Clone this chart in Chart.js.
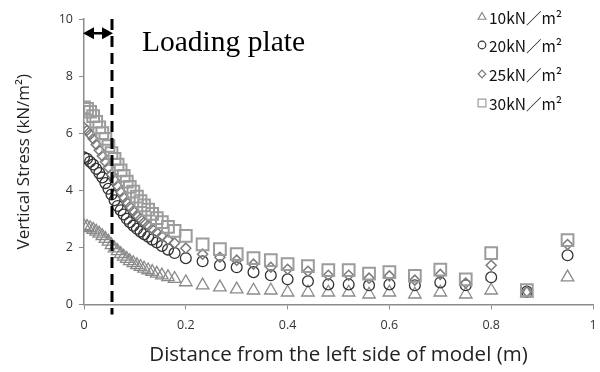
<!DOCTYPE html>
<html>
<head>
<meta charset="utf-8">
<script src="https://cdn.jsdelivr.net/npm/chart.js@4"></script>
<style>
  body { margin: 0; background: #fff; }
  #wrap { width: 600px; height: 372px; }
</style>
</head>
<body>
<div id="wrap"><canvas id="stressChart" width="600" height="372"></canvas></div>
<script>
// measured points (m from left side) and vertical stress per load
const distance = [0, 0.006, 0.012, 0.018, 0.024, 0.03, 0.036, 0.042, 0.048, 0.054,
  0.06, 0.066, 0.072, 0.078, 0.084, 0.09, 0.097, 0.104, 0.111, 0.118,
  0.126, 0.134, 0.143, 0.153, 0.165, 0.178, 0.2, 0.233, 0.267, 0.3,
  0.333, 0.367, 0.4, 0.44, 0.48, 0.52, 0.56, 0.6, 0.65, 0.7,
  0.75, 0.8, 0.87, 0.95];

const stress10 = [2.75, 2.72, 2.68, 2.62, 2.55, 2.48, 2.4, 2.3, 2.2, 2.08,
  1.97, 1.87, 1.77, 1.68, 1.6, 1.52, 1.45, 1.38, 1.32, 1.26,
  1.2, 1.14, 1.08, 1.02, 0.96, 0.9, 0.78, 0.67, 0.6, 0.53,
  0.49, 0.49, 0.42, 0.42, 0.42, 0.42, 0.35, 0.42, 0.35, 0.42,
  0.35, 0.49, 0.38, 0.95];
const stress20 = [5.15, 5.1, 5.0, 4.9, 4.75, 4.6, 4.45, 4.25, 4.05, 3.85,
  3.65, 3.45, 3.3, 3.15, 3.0, 2.88, 2.76, 2.65, 2.55, 2.46,
  2.37, 2.27, 2.17, 2.05, 1.92, 1.8, 1.62, 1.51, 1.37, 1.3,
  1.13, 1.02, 0.88, 0.81, 0.7, 0.7, 0.67, 0.7, 0.67, 0.77,
  0.67, 0.95, 0.45, 1.72];
const stress25 = [6.2, 6.1, 5.95, 5.8, 5.6, 5.4, 5.2, 5.0, 4.8, 4.55,
  4.35, 4.15, 3.95, 3.75, 3.58, 3.42, 3.27, 3.12, 3.0, 2.88,
  2.76, 2.64, 2.52, 2.4, 2.27, 2.15, 1.97, 1.76, 1.65, 1.55,
  1.41, 1.3, 1.23, 1.16, 1.02, 1.02, 0.92, 1.0, 0.85, 1.05,
  0.75, 1.37, 0.45, 2.1];
const stress30 = [6.9, 6.85, 6.75, 6.6, 6.4, 6.2, 6.0, 5.8, 5.55, 5.3,
  5.1, 4.9, 4.7, 4.5, 4.3, 4.12, 3.95, 3.78, 3.62, 3.47,
  3.32, 3.17, 3.02, 2.88, 2.72, 2.58, 2.4, 2.1, 1.94, 1.76,
  1.62, 1.55, 1.41, 1.34, 1.2, 1.2, 1.08, 1.13, 1.0, 1.22,
  0.88, 1.8, 0.5, 2.25];

const seriesLabels = ['10kN／m²', '20kN／m²', '25kN／m²', '30kN／m²'];
const plateEdge = 0.055;   // end of loading plate (m)
const arrowLevel = 9.5;

function pts(ys) {
  return distance.map((x, i) => ({ x: x, y: ys[i] }));
}

const datasets = [
  { label: seriesLabels[3], data: pts(stress30), pointStyle: 'rect', pointRadius: 8.3, borderColor: '#9c9c9c', pointBorderWidth: 2 },
  { label: seriesLabels[2], data: pts(stress25), pointStyle: 'rectRot', pointRadius: 5, borderColor: '#7a7a7a', pointBorderWidth: 1.5 },
  { label: seriesLabels[1], data: pts(stress20), pointStyle: 'circle', pointRadius: 5.4, borderColor: '#333333', pointBorderWidth: 1.3 },
  { label: seriesLabels[0], data: pts(stress10), pointStyle: 'triangle', pointRadius: 7.2, borderColor: '#8a8a8a', pointBorderWidth: 1.3 }
];
datasets.forEach(d => {
  d.showLine = false;
  d.backgroundColor = 'rgba(0,0,0,0)';
  d.pointBackgroundColor = 'rgba(0,0,0,0)';
  d.pointBorderColor = d.borderColor;
});

// dashed plate line, arrow, text and legend inside the plot
const extras = {
  id: 'extras',
  afterDatasetsDraw(chart) {
    const ctx = chart.ctx;
    const xs = chart.scales.x, ys = chart.scales.y;
    const px = xs.getPixelForValue(plateEdge);
    const x0 = xs.getPixelForValue(0);
    const ay = ys.getPixelForValue(arrowLevel);
    ctx.save();
    ctx.strokeStyle = '#000';
    ctx.lineWidth = 3;
    ctx.setLineDash([11, 6]);
    ctx.beginPath();
    ctx.moveTo(px, ys.getPixelForValue(10));
    ctx.lineTo(px, ys.bottom + 10);
    ctx.stroke();
    ctx.setLineDash([]);
    // double arrow
    ctx.lineWidth = 2.5;
    ctx.beginPath();
    ctx.moveTo(x0 + 6, ay);
    ctx.lineTo(px - 6, ay);
    ctx.stroke();
    ctx.fillStyle = '#000';
    ctx.beginPath();
    ctx.moveTo(x0 - 1, ay); ctx.lineTo(x0 + 10, ay - 6); ctx.lineTo(x0 + 10, ay + 6); ctx.closePath();
    ctx.fill();
    ctx.beginPath();
    ctx.moveTo(px + 1, ay); ctx.lineTo(px - 10, ay - 6); ctx.lineTo(px - 10, ay + 6); ctx.closePath();
    ctx.fill();
    ctx.font = '29.5px "Liberation Serif", serif';
    ctx.textBaseline = 'middle';
    ctx.fillText('Loading plate', 142, 43);

    // legend
    const order = [3, 2, 1, 0];
    const rowY = [17, 45, 74, 103];
    order.forEach((di, k) => {
      const ds = chart.data.datasets[di];
      const r = ds.pointStyle === 'rect' ? 5.5 : (ds.pointStyle === 'triangle' ? 4.5 : 3.8);
      ctx.lineWidth = 1.2;
      ctx.strokeStyle = ds.borderColor;
      ctx.fillStyle = 'rgba(0,0,0,0)';
      Chart.helpers.drawPoint(ctx, { pointStyle: ds.pointStyle, radius: r, borderWidth: 1.2 }, 482, rowY[k]);
      ctx.fillStyle = '#111';
      ctx.textAlign = 'left';
      ctx.font = '15.5px "Noto Sans CJK JP", sans-serif';
      ctx.fillText(ds.label, 489, rowY[k] + 1);
    });
    ctx.restore();
  }
};

const axisFont = 'Open Sans';

new Chart(document.getElementById('stressChart'), {
  type: 'scatter',
  data: { datasets: datasets },
  options: {
    responsive: false,
    animation: false,
    layout: { autoPadding: false, padding: { top: 19, right: 0, left: 14, bottom: 5 } },
    plugins: { legend: { display: false }, tooltip: { enabled: false } },
    scales: {
      x: {
        min: 0, max: 1,
        border: { color: '#8c8c8c', width: 1.5 },
        grid: { drawOnChartArea: false, color: '#8c8c8c', tickLength: 5 },
        ticks: { stepSize: 0.2, color: '#333', font: { family: axisFont, size: 12.5 }, padding: 9,
          callback: v => String(Math.round(v * 10) / 10) },
        title: { display: true, text: 'Distance from the left side of model (m)', color: '#222',
          font: { family: axisFont, size: 20.5 }, padding: { top: 0, bottom: 0 } },
        afterFit(scale) { scale.paddingRight = 7; }
      },
      y: {
        min: 0, max: 10,
        border: { color: '#8c8c8c', width: 1.5 },
        grid: { drawOnChartArea: false, color: '#8c8c8c', tickLength: 5 },
        ticks: { stepSize: 2, color: '#333', font: { family: axisFont, size: 12.5 }, padding: 6 },
        title: { display: true, text: 'Vertical Stress (kN/m²)', color: '#222',
          font: { family: axisFont, size: 17 }, padding: { top: 0, bottom: 6 } },
        afterFit(scale) { scale.width = 70; }
      }
    }
  },
  plugins: [extras]
});
</script>
</body>
</html>
